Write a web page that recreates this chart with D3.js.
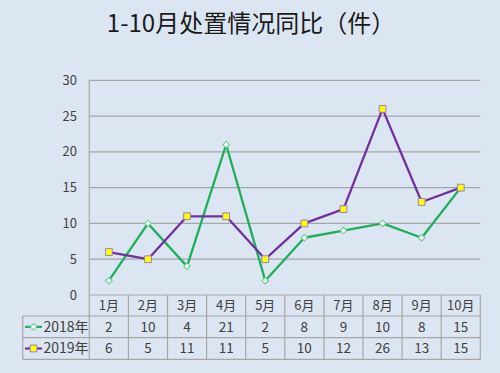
<!DOCTYPE html>
<html><head><meta charset="utf-8">
<script src="https://cdn.jsdelivr.net/npm/d3@7"></script>
<style>html,body{margin:0;padding:0;background:#DCE6F2;}svg{display:block;}</style>
</head><body>
<svg id="c" width="500" height="373"></svg>
<script>
const title = "1-10月处置情况同比（件）";
const months = ["1月","2月","3月","4月","5月","6月","7月","8月","9月","10月"];
const seriesNames = ["2018年","2019年"];
const s2018 = [2,10,4,21,2,8,9,10,8,15];
const s2019 = [6,5,11,11,5,10,12,26,13,15];
const yTicks = [0,5,10,15,20,25,30];

(function(){
const svg = d3.select("#c");
const W=500,H=373;
svg.append("rect").attr("width",W).attr("height",H).attr("fill","#DCE6F2");

const pLeft=89.3, pRight=480.3, pTop=80.3, pBottom=295;
const rowH=[295,316,337.7,359.3];
const labelLeft=22.7;
const x = d3.scaleBand().domain(months).range([pLeft,pRight]).padding(0);
const y = d3.scaleLinear().domain([0,30]).range([pBottom,pTop]);

const font = "'Noto Sans CJK SC','Noto Sans',sans-serif";
const grid="#A6A6A6", textCol="#404040";

svg.append("text").attr("x",251).attr("y",31.5).attr("text-anchor","middle")
  .attr("font-family",font).attr("font-size",24).attr("fill","#1a1a1a").text(title);

svg.append("g").selectAll("line").data(yTicks.filter(d=>d>0)).join("line")
  .attr("x1",pLeft).attr("x2",pRight).attr("y1",d=>y(d)).attr("y2",d=>y(d))
  .attr("stroke",grid).attr("stroke-width",1.3);

svg.append("g").selectAll("text").data(yTicks).join("text")
  .attr("x",77).attr("y",d=>y(d)).attr("dy","0.35em").attr("text-anchor","end")
  .attr("font-family",font).attr("font-size",13).attr("fill",textCol).text(d=>d);

svg.append("line").attr("x1",pLeft).attr("x2",pLeft).attr("y1",pTop).attr("y2",rowH[3]).attr("stroke",grid).attr("stroke-width",1.2);

const tg = svg.append("g");
tg.append("line").attr("x1",pLeft).attr("x2",pRight).attr("y1",rowH[0]).attr("y2",rowH[0]).attr("stroke",grid).attr("stroke-width",1.2);
[1,2,3].forEach(i=>{
  tg.append("line").attr("x1",labelLeft).attr("x2",pRight).attr("y1",rowH[i]).attr("y2",rowH[i]).attr("stroke",grid).attr("stroke-width",1.2);
});
tg.append("line").attr("x1",labelLeft).attr("x2",labelLeft).attr("y1",rowH[1]).attr("y2",rowH[3]).attr("stroke",grid).attr("stroke-width",1.2);
months.forEach(m=>{
  tg.append("line").attr("x1",x(m)+x.bandwidth()).attr("x2",x(m)+x.bandwidth()).attr("y1",rowH[0]).attr("y2",rowH[3]).attr("stroke",grid).attr("stroke-width",1.2);
});
tg.selectAll("text.h").data(months).join("text").attr("class","h")
  .attr("x",d=>x(d)+x.bandwidth()/2).attr("y",(rowH[0]+rowH[1])/2).attr("dy","0.35em")
  .attr("text-anchor","middle").attr("font-family",font).attr("font-size",13).attr("fill",textCol).text(d=>d);
[s2018,s2019].forEach((s,i)=>{
  tg.selectAll("text.v"+i).data(s).join("text").attr("class","v"+i)
    .attr("x",(d,j)=>x(months[j])+x.bandwidth()/2).attr("y",(rowH[i+1]+rowH[i+2])/2).attr("dy","0.35em")
    .attr("text-anchor","middle").attr("font-family",font).attr("font-size",13.5).attr("fill",textCol).text(d=>d);
});

const green="#1DAF5A", purple="#7030A0";
const diamond = d3.symbol().type(d3.symbolSquare).size(22);
const square = d3.symbol().type(d3.symbolSquare).size(46);

const legs=[{c:green,sym:"d"},{c:purple,sym:"s"}];
legs.forEach((l,i)=>{
  const cy=(rowH[i+1]+rowH[i+2])/2;
  tg.append("line").attr("x1",25).attr("x2",42).attr("y1",cy).attr("y2",cy).attr("stroke",l.c).attr("stroke-width",2.2);
  if(l.sym==="d") tg.append("path").attr("d",diamond).attr("transform",`translate(33.5,${cy}) rotate(45)`).attr("fill","#fff").attr("stroke","#5FCB8C").attr("stroke-width",1);
  else tg.append("path").attr("d",square).attr("transform",`translate(33.5,${cy})`).attr("fill","#FFFF00").attr("stroke","#9B7FB5").attr("stroke-width",1);
  tg.append("text").attr("x",43.5).attr("y",cy).attr("dy","0.35em").attr("font-family",font).attr("font-size",14).attr("fill",textCol).text(seriesNames[i]);
});

const line = d3.line().x((d,i)=>x(months[i])+x.bandwidth()/2).y(d=>y(d));
svg.append("path").datum(s2018).attr("d",line).attr("fill","none").attr("stroke",green).attr("stroke-width",2.3).attr("stroke-linejoin","round");
svg.append("path").datum(s2019).attr("d",line).attr("fill","none").attr("stroke",purple).attr("stroke-width",2.3).attr("stroke-linejoin","round");

svg.append("g").selectAll("path").data(s2018).join("path").attr("d",diamond)
  .attr("transform",(d,i)=>`translate(${x(months[i])+x.bandwidth()/2},${y(d)}) rotate(45)`)
  .attr("fill","#fff").attr("stroke","#5FCB8C").attr("stroke-width",1);
svg.append("g").selectAll("path").data(s2019).join("path").attr("d",square)
  .attr("transform",(d,i)=>`translate(${x(months[i])+x.bandwidth()/2},${y(d)})`)
  .attr("fill","#FFFF00").attr("stroke","#9B7FB5").attr("stroke-width",1);
})();
</script>
</body></html>
